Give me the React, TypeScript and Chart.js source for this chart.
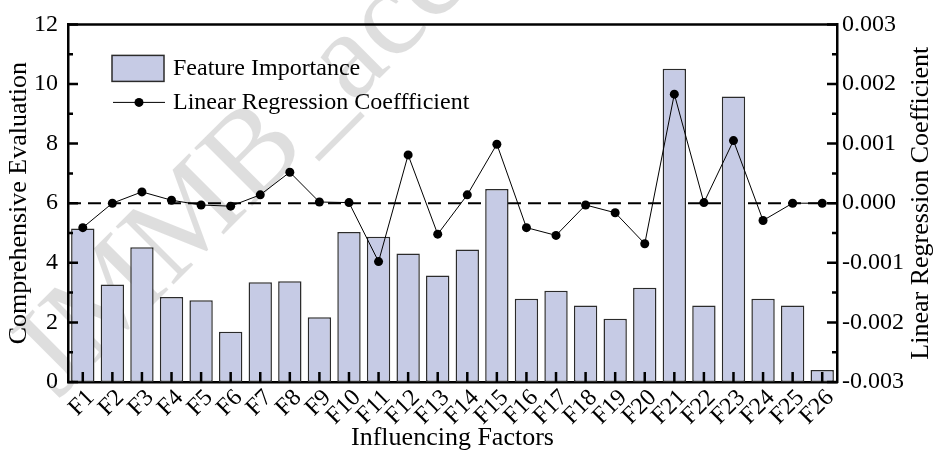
import React, { useEffect, useRef } from 'react';
import { Chart, registerables } from 'chart.js';

Chart.register(...registerables);

const categories = ['F1', 'F2', 'F3', 'F4', 'F5', 'F6', 'F7', 'F8', 'F9', 'F10', 'F11', 'F12', 'F13', 'F14', 'F15', 'F16', 'F17', 'F18', 'F19', 'F20', 'F21', 'F22', 'F23', 'F24', 'F25', 'F26'];
const featureImportance = [5.15, 3.27, 4.52, 2.85, 2.74, 1.69, 3.35, 3.38, 2.17, 5.03, 4.87, 4.31, 3.57, 4.45, 6.48, 2.79, 3.06, 2.57, 2.12, 3.16, 10.51, 2.57, 9.58, 2.79, 2.57, 0.4];
const regressionCoef = [-0.00041, 0.0, 0.00019, 0.00005, -0.00003, -0.00005, 0.00014, 0.00052, 0.00002, 0.00001, -0.00098, 0.00081, -0.00052, 0.00014, 0.00099, -0.00041, -0.00054, -0.00003, -0.00016, -0.00068, 0.00183, 0.00001, 0.00105, -0.00029, 0.0, 0.0];
const leftMin = 0;
const leftMax = 12;
const leftStep = 2;
const rightMin = -0.003;
const rightMax = 0.003;
const rightStep = 0.001;
const seriesNames = ['Feature Importance', 'Linear Regression Coeffficient'];
const xTitle = 'Influencing Factors';
const yLeftTitle = 'Comprehensive Evaluation';
const yRightTitle = 'Linear Regression Coefficient';
const watermark = 'JMMB_accepted';

const FONT = '"Liberation Serif", "Times New Roman", serif';
const BAR_FILL = '#c6cbe5';
const BAR_EDGE = '#2b2b2b';

export default function App() {
  const ref = useRef<HTMLCanvasElement>(null);

  useEffect(() => {
    document.body.style.margin = '0';
    const canvas = ref.current;
    if (!canvas) return;

    const decor = {
      id: 'decor',
      beforeDraw(chart: any) {
        const ctx = chart.ctx;
        ctx.save();
        ctx.fillStyle = '#ffffff';
        ctx.fillRect(0, 0, chart.width, chart.height);
        ctx.translate(58, 400);
        ctx.rotate(-Math.PI / 4);
        ctx.font = `125px ${FONT}`;
        ctx.fillStyle = 'rgba(0,0,0,0.13)';
        ctx.textBaseline = 'alphabetic';
        ctx.fillText(watermark, 0, 0);
        ctx.restore();
      },
      beforeDatasetsDraw(chart: any) {
        const ctx = chart.ctx;
        const { left, right } = chart.chartArea;
        const y = chart.scales.yR.getPixelForValue(0);
        ctx.save();
        ctx.strokeStyle = '#000';
        ctx.lineWidth = 2;
        ctx.setLineDash([13, 7]);
        ctx.beginPath();
        ctx.moveTo(left, y);
        ctx.lineTo(right, y);
        ctx.stroke();
        ctx.restore();
      },
      afterDatasetsDraw(chart: any) {
        const ctx = chart.ctx;
        const { left, right, top, bottom } = chart.chartArea;
        const yL = chart.scales.yL;
        const yR = chart.scales.yR;
        const x = chart.scales.x;
        ctx.save();
        ctx.strokeStyle = '#000';
        ctx.lineWidth = 2.5;
        ctx.beginPath();
        ctx.moveTo(left - 1, top);
        ctx.lineTo(right + 1, top);
        ctx.stroke();
        ctx.lineWidth = 2.5;
        ctx.beginPath();
        const nL = Math.round((leftMax - leftMin) / (leftStep / 2));
        for (let i = 0; i <= nL; i++) {
          const v = leftMin + (i * leftStep) / 2;
          const py = yL.getPixelForValue(v);
          const len = i % 2 === 0 ? 10 : 5;
          ctx.moveTo(left, py);
          ctx.lineTo(left + len, py);
        }
        const nR = Math.round((rightMax - rightMin) / (rightStep / 2));
        for (let i = 0; i <= nR; i++) {
          const v = rightMin + (i * rightStep) / 2;
          const py = yR.getPixelForValue(v);
          const len = i % 2 === 0 ? 10 : 5;
          ctx.moveTo(right, py);
          ctx.lineTo(right - len, py);
        }
        for (let i = 0; i < categories.length; i++) {
          const px = x.getPixelForValue(i);
          ctx.moveTo(px, bottom);
          ctx.lineTo(px, bottom - 10);
        }
        ctx.stroke();

        // legend
        const bx = left + 44;
        const by = top + 31;
        ctx.fillStyle = BAR_FILL;
        ctx.fillRect(bx, by, 52, 26);
        ctx.lineWidth = 1.5;
        ctx.strokeStyle = BAR_EDGE;
        ctx.strokeRect(bx, by, 52, 26);
        const ly = top + 78;
        ctx.strokeStyle = '#000';
        ctx.lineWidth = 1;
        ctx.beginPath();
        ctx.moveTo(bx + 1, ly);
        ctx.lineTo(bx + 53, ly);
        ctx.stroke();
        ctx.fillStyle = '#000';
        ctx.beginPath();
        ctx.arc(bx + 27, ly, 4.5, 0, Math.PI * 2);
        ctx.fill();
        ctx.font = `24px ${FONT}`;
        ctx.textAlign = 'left';
        ctx.textBaseline = 'middle';
        ctx.fillText(seriesNames[0], left + 105, by + 13);
        ctx.fillText(seriesNames[1], left + 105, ly);

        // right axis title
        ctx.save();
        ctx.translate(921, (top + bottom) / 2);
        ctx.rotate(-Math.PI / 2);
        ctx.font = `26px ${FONT}`;
        ctx.textAlign = 'center';
        ctx.textBaseline = 'middle';
        ctx.fillText(yRightTitle, 0, 0);
        ctx.restore();
        ctx.restore();
      },
    };

    const chart = new Chart(canvas, {
      type: 'bar',
      data: {
        labels: categories,
        datasets: [
          {
            type: 'line',
            label: seriesNames[1],
            data: regressionCoef,
            yAxisID: 'yR',
            borderColor: '#000',
            borderWidth: 1,
            pointRadius: 4.5,
            pointBackgroundColor: '#000',
            pointBorderColor: '#000',
            pointBorderWidth: 0,
            tension: 0,
            order: 1,
          } as any,
          {
            type: 'bar',
            label: seriesNames[0],
            data: featureImportance,
            yAxisID: 'yL',
            backgroundColor: BAR_FILL,
            borderColor: BAR_EDGE,
            borderWidth: 1.5,
            borderSkipped: false,
            barPercentage: 0.79,
            categoryPercentage: 1.0,
            order: 2,
          },
        ],
      },
      options: {
        responsive: false,
        animation: false,
        layout: { padding: { top: 21, left: 0, right: 0, bottom: 0 } },
        plugins: { legend: { display: false }, tooltip: { enabled: false } },
        scales: {
          x: {
            type: 'category',
            position: 'bottom',
            offset: true,
            grid: { display: false, drawTicks: false },
            border: { display: true, color: '#000', width: 2.5 },
            ticks: {
              color: '#000',
              font: { family: FONT, size: 24 },
              autoSkip: false,
              maxRotation: 45,
              minRotation: 45,
              padding: 2,
              labelOffset: 8,
            },
            title: {
              display: true,
              text: xTitle,
              color: '#000',
              font: { family: FONT, size: 26 },
              padding: { top: 0, bottom: 1 },
            },
            afterFit(scale: any) {
              scale.height = 73;
            },
          },
          yL: {
            position: 'left',
            min: leftMin,
            max: leftMax,
            grid: { display: false, drawTicks: false },
            border: { display: true, color: '#000', width: 2.5 },
            ticks: {
              stepSize: leftStep,
              color: '#000',
              font: { family: FONT, size: 24 },
              padding: 10,
            },
            title: {
              display: true,
              text: yLeftTitle,
              color: '#000',
              font: { family: FONT, size: 26 },
              padding: { top: 4, bottom: 0 },
            },
            afterFit(scale: any) {
              scale.width = 68;
            },
          },
          yR: {
            position: 'right',
            min: rightMin,
            max: rightMax,
            grid: { display: false, drawTicks: false },
            border: { display: true, color: '#000', width: 2.5 },
            ticks: {
              stepSize: rightStep,
              color: '#000',
              font: { family: FONT, size: 24 },
              padding: 5,
              callback: (v: any) => {
                const r = Math.round(Number(v) * 1000) / 1000;
                return (r === 0 ? 0 : r).toFixed(3);
              },
            },
            afterFit(scale: any) {
              scale.width = 96;
            },
          },
        },
      },
      plugins: [decor],
    });

    return () => chart.destroy();
  }, []);

  return (
    <div style={{ width: 933, height: 455 }}>
      <canvas ref={ref} width={933} height={455} style={{ display: 'block', width: 933, height: 455 }} />
    </div>
  );
}
